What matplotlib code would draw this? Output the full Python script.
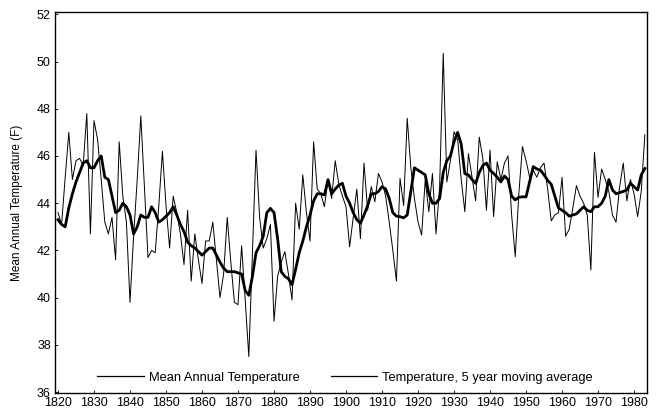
import matplotlib
matplotlib.use("Agg")
import matplotlib.pyplot as plt

plt.rcParams['font.family'] = ['Liberation Sans', 'DejaVu Sans']

# years 1820..1983
start_year = 1820
temp = [
    43.6, 43.1, 45.1, 47.0, 45.0, 45.8, 45.9, 45.6, 47.8, 42.7,   # 1820s
    47.5, 46.7, 45.0, 43.2, 42.7, 43.4, 41.6, 46.6, 44.3, 43.2,   # 1830s
    39.8, 42.6, 45.0, 47.7, 44.7, 41.7, 42.0, 41.9, 43.9, 46.2,   # 1840s
    43.9, 42.1, 44.3, 43.6, 42.7, 41.4, 43.7, 40.7, 42.7, 41.6,   # 1850s
    40.6, 42.4, 42.4, 43.2, 41.6, 40.0, 41.0, 43.4, 41.5, 39.8,   # 1860s
    39.7, 42.2, 39.9, 37.5, 41.9, 46.25, 43.4, 42.1, 42.5, 43.1,  # 1870s
    39.0, 40.9, 41.5, 41.95, 41.0, 39.9, 44.0, 42.9, 45.2, 43.6,  # 1880s
    42.4, 46.6, 44.6, 44.4, 43.85, 45.0, 44.2, 45.8, 44.8, 44.3,  # 1890s
    43.85, 42.15, 43.4, 44.6, 42.5, 45.7, 43.7, 44.7, 44.06, 45.26,  # 1900s
    44.9, 44.3, 43.2, 42.0, 40.7, 45.05, 43.9, 47.6, 45.5, 44.2,  # 1910s
    43.2, 42.65, 45.0, 43.64, 45.26, 42.7, 44.7, 50.35, 44.9, 45.8,  # 1920s
    47.03, 46.7, 45.0, 43.64, 46.1, 45.1, 44.1, 46.8, 45.9, 43.7,  # 1930s
    46.25, 43.43, 45.76, 45.0, 45.7, 46.0, 43.5, 41.73, 44.4, 46.4,  # 1940s
    45.8, 45.1, 45.4, 45.1, 45.5, 45.7, 44.6, 43.25, 43.5, 43.6,  # 1950s
    45.1, 42.6, 42.9, 43.8, 44.75, 44.3, 44.0, 43.5, 41.17, 46.15,  # 1960s
    44.25, 45.45, 45.0, 44.5, 43.5, 43.2, 44.7, 45.7, 44.1, 45.0,  # 1970s
    44.4, 43.43, 44.5, 46.9,                                       # 1980s
]
moving_avg = [
    43.3, 43.1, 43.0, 43.8, 44.4, 44.9, 45.3, 45.7, 45.8, 45.5,
    45.5, 45.8, 46.0, 45.1, 45.0, 44.3, 43.6, 43.7, 44.0, 43.85,
    43.5, 42.7, 43.0, 43.5, 43.4, 43.4, 43.85, 43.6, 43.2, 43.3,
    43.45, 43.6, 43.85, 43.5, 43.1, 42.8, 42.35, 42.2, 42.1, 41.95,
    41.8, 41.95, 42.1, 42.1, 41.8, 41.5, 41.25, 41.1, 41.1, 41.1,
    41.05, 41.0, 40.3, 40.1, 40.9, 41.9, 42.2, 42.6, 43.6, 43.78,
    43.6, 42.5, 41.1, 40.9, 40.8, 40.55, 41.2, 41.9, 42.4, 43.0,
    43.5, 44.1, 44.4, 44.4, 44.35, 45.0, 44.4, 44.6, 44.77, 44.84,
    44.3, 44.0, 43.6, 43.3, 43.15, 43.5, 43.9, 44.4, 44.4, 44.5,
    44.7, 44.6, 44.2, 43.6, 43.45, 43.43, 43.38, 43.5, 44.5, 45.5,
    45.4, 45.3, 45.2, 44.4, 44.0, 44.0, 44.2, 45.3, 45.8, 46.0,
    46.6, 47.0, 46.5, 45.25, 45.2, 45.0, 44.84, 45.3, 45.6, 45.7,
    45.4, 45.26, 45.1, 44.9, 45.15, 45.0, 44.3, 44.14, 44.25, 44.27,
    44.27, 44.9, 45.55, 45.45, 45.4, 45.2, 44.97, 44.8, 44.3, 43.8,
    43.7, 43.6, 43.45, 43.5, 43.55, 43.7, 43.85, 43.7, 43.64, 43.85,
    43.85, 44.0, 44.3, 45.0, 44.56, 44.4, 44.45, 44.5, 44.56, 44.84,
    44.7, 44.56, 45.2, 45.47,
]
years = list(range(start_year, start_year + len(temp)))
xticks = list(range(1820, 1981, 10))
yticks = list(range(36, 53, 2))

fig = plt.figure(figsize=(6.58, 4.11), dpi=100)
ax = fig.add_axes([0.0836, 0.0438, 0.8997, 0.927])

ax.plot(years, temp, color='black', lw=0.7, label='Mean Annual Temperature')
ax.plot(years, moving_avg, color='black', lw=2.0,
        label='Temperature, 5 year moving average')

ax.set_xlim(1819.17, 1983.6)
ax.set_ylim(35.96, 52.1)
ax.set_xticks(xticks)
ax.set_yticks(yticks)
ax.tick_params(direction='in', length=2, width=0.6, labelsize=9, pad=3)
ax.set_ylabel('Mean Annual Temperature (F)', fontsize=8.5, labelpad=10)

for s in ax.spines.values():
    s.set_linewidth(1.0)

leg = ax.legend(loc='center', bbox_to_anchor=(0.49, 0.04), ncol=2,
                frameon=False, fontsize=9.3, handlelength=3.6,
                columnspacing=2.4, handletextpad=0.4, borderaxespad=0)
for line in leg.get_lines():
    line.set_linewidth(0.9)

fig.savefig('out.png', dpi=100)
